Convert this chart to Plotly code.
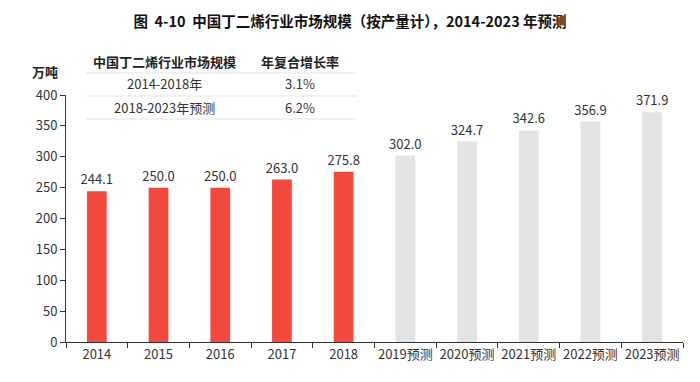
import plotly.graph_objects as go

categories = ["2014", "2015", "2016", "2017", "2018",
              "2019预测", "2020预测", "2021预测", "2022预测", "2023预测"]
values = [244.1, 250.0, 250.0, 263.0, 275.8, 302.0, 324.7, 342.6, 356.9, 371.9]
is_forecast = [False] * 5 + [True] * 5
table_header = ["中国丁二烯行业市场规模", "年复合增长率"]
table_rows = [["2014-2018年", "3.1%"], ["2018-2023年预测", "6.2%"]]

RED = "#F44A3D"
GRAY = "#E3E3E3"
FONT = "Noto Sans CJK SC"

W, H = 700, 382
L, R, T, B = 66, 17, 95, 40

def px(x):
    return (x - L) / (W - L - R)

def py(y):
    return (H - B - y) / (H - T - B)

fig = go.Figure()
fig.add_trace(go.Bar(
    x=categories, y=values,
    marker=dict(color=[GRAY if f else RED for f in is_forecast], line=dict(width=0)),
    width=0.32,
    text=[f"{v:.1f}" for v in values],
    textposition="outside",
    constraintext="none",
    cliponaxis=False,
    textfont=dict(size=13, color="#333333", family=FONT),
))

fig.update_layout(
    width=W, height=H,
    margin=dict(l=L, r=R, t=T, b=B, autoexpand=False),
    paper_bgcolor="white", plot_bgcolor="white",
    showlegend=False,
    font=dict(family=FONT, color="#333333"),
    title=dict(text="<b>图  4-10  中国丁二烯行业市场规模（按产量计），2014-2023 年预测</b>",
               x=0.5, xanchor="center", y=1 - 22 / H, yanchor="middle",
               font=dict(size=14.5, color="#111111", family=FONT)),
    xaxis=dict(
        type="category", tickson="boundaries", ticks="outside", ticklen=5,
        tickcolor="#333333", showline=True, linecolor="#333333", linewidth=1,
        tickangle=0, automargin=False,
        tickfont=dict(size=13, color="#333333", family=FONT), showgrid=False,
    ),
    yaxis=dict(
        range=[0, 400], dtick=50, ticks="outside", ticklen=5,
        tickcolor="#333333", showline=True, linecolor="#333333", linewidth=1,
        automargin=False,
        tickfont=dict(size=13, color="#333333", family=FONT), showgrid=False,
        zeroline=False,
    ),
)

# unit label
fig.add_annotation(text="<b>万吨</b>", xref="paper", yref="paper",
                   x=px(45), y=py(72), xanchor="center", yanchor="middle",
                   showarrow=False,
                   font=dict(size=13, color="#222222", family=FONT))

# table
col_x = [164, 300]
for cx, txt in zip(col_x, table_header):
    fig.add_annotation(text=f"<b>{txt}</b>", xref="paper", yref="paper",
                       x=px(cx), y=py(61), xanchor="center", yanchor="middle",
                       showarrow=False,
                       font=dict(size=13, color="#222222", family=FONT))
row_y = [84, 107]
for ry, row in zip(row_y, table_rows):
    for cx, txt in zip(col_x, row):
        fig.add_annotation(text=txt, xref="paper", yref="paper",
                           x=px(cx), y=py(ry), xanchor="center", yanchor="middle",
                           showarrow=False,
                           font=dict(size=13, color="#333333", family=FONT))
for ly in [73, 96, 119]:
    fig.add_shape(type="line", xref="paper", yref="paper",
                  x0=px(86), x1=px(356), y0=py(ly), y1=py(ly),
                  line=dict(color="#E3E3E3", width=1))

fig.write_html("out.html", config={"displayModeBar": False},
               post_script="document.body.style.margin='0';")
